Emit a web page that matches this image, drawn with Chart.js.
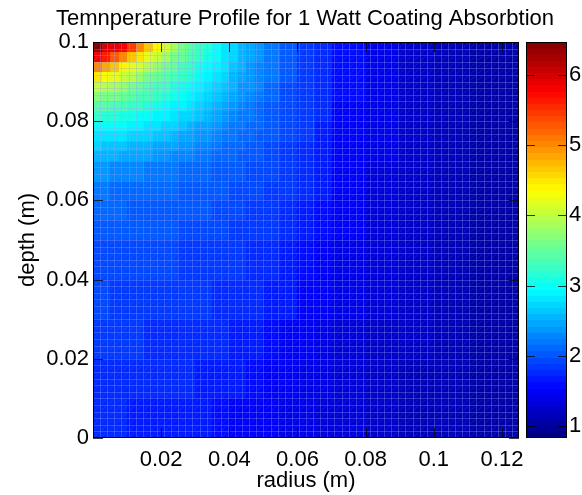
<!DOCTYPE html>
<html>
<head>
<meta charset="UTF-8">
<title>Temnperature Profile</title>
<script src="https://cdn.jsdelivr.net/npm/chart.js"></script>
<style>
    html, body { margin: 0; padding: 0; background: #fff; }
    #wrap { position: relative; width: 582px; height: 495px; }
</style>
</head>
<body>
<div id="wrap"><canvas id="heat"></canvas></div>
<script>
    // Temperature, stored as three rectangular patches of cells.
    // Each patch: radius edges (m), depth edges (m, top to bottom), one list per depth band.

    // patch A: hot corner, radius 0..0.05, depth 0.1..0.07
    const radiusA = [0, 0.0025, 0.005, 0.0075, 0.01, 0.0125, 0.015, 0.0175, 0.02, 0.0225, 0.025,
        0.0275, 0.03, 0.0325, 0.035, 0.0375, 0.04, 0.0425, 0.045, 0.0475, 0.05];
    const depthA = [0.1, 0.0975, 0.095, 0.0925, 0.09, 0.0875, 0.085, 0.0825, 0.08, 0.0775, 0.075, 0.0725, 0.07];
    const rowA01 = [6.45, 6.00, 5.90, 5.80, 5.44, 5.01, 4.67, 4.39, 4.13, 3.87, 3.62, 3.44, 3.27, 3.13, 3.00, 2.85, 2.71, 2.57, 2.44, 2.34];
    const rowA02 = [5.79, 5.59, 5.32, 4.99, 4.70, 4.47, 4.25, 4.05, 3.84, 3.63, 3.49, 3.34, 3.21, 3.08, 2.96, 2.82, 2.69, 2.55, 2.43, 2.33];
    const rowA03 = [5.02, 4.81, 4.62, 4.44, 4.26, 4.10, 3.93, 3.75, 3.60, 3.48, 3.36, 3.24, 3.12, 3.01, 2.89, 2.77, 2.65, 2.52, 2.40, 2.31];
    const rowA04 = [4.47, 4.34, 4.21, 4.08, 3.94, 3.79, 3.64, 3.54, 3.44, 3.34, 3.23, 3.13, 3.03, 2.93, 2.82, 2.72, 2.59, 2.47, 2.37, 2.28];
    const rowA05 = [4.08, 3.98, 3.86, 3.75, 3.63, 3.55, 3.46, 3.38, 3.30, 3.20, 3.11, 3.02, 2.93, 2.84, 2.75, 2.64, 2.52, 2.41, 2.33, 2.24];
    const rowA06 = [3.70, 3.64, 3.57, 3.51, 3.44, 3.37, 3.31, 3.23, 3.15, 3.07, 2.99, 2.91, 2.83, 2.75, 2.66, 2.55, 2.44, 2.36, 2.28, 2.20];
    const rowA07 = [3.46, 3.42, 3.37, 3.33, 3.28, 3.21, 3.14, 3.07, 3.01, 2.94, 2.87, 2.81, 2.74, 2.66, 2.55, 2.45, 2.38, 2.30, 2.22, 2.15];
    const rowA08 = [3.24, 3.20, 3.15, 3.11, 3.07, 3.02, 2.98, 2.93, 2.88, 2.82, 2.76, 2.71, 2.62, 2.54, 2.45, 2.38, 2.31, 2.23, 2.16, 2.11];
    const rowA09 = [3.03, 3.00, 2.98, 2.96, 2.92, 2.88, 2.84, 2.79, 2.75, 2.71, 2.65, 2.57, 2.50, 2.43, 2.36, 2.30, 2.23, 2.17, 2.12, 2.07];
    const rowA10 = [2.85, 2.83, 2.80, 2.78, 2.76, 2.74, 2.71, 2.68, 2.62, 2.56, 2.50, 2.45, 2.39, 2.33, 2.28, 2.22, 2.17, 2.12, 2.08, 2.04];
    const rowA11 = [2.69, 2.66, 2.63, 2.60, 2.58, 2.55, 2.52, 2.50, 2.47, 2.44, 2.39, 2.34, 2.29, 2.25, 2.20, 2.15, 2.12, 2.08, 2.04, 2.01];
    const rowA12 = [2.54, 2.52, 2.51, 2.49, 2.47, 2.46, 2.43, 2.39, 2.35, 2.32, 2.28, 2.24, 2.21, 2.17, 2.14, 2.11, 2.08, 2.05, 2.02, 1.98];

    // patch B: outer part, radius 0.05..0.125, full depth
    const radiusB = [0.05, 0.055, 0.06, 0.065, 0.07, 0.08, 0.09, 0.1, 0.11, 0.125];
    const depthB = [0.1, 0.095, 0.09, 0.085, 0.08, 0.075, 0.07, 0.065, 0.06, 0.05, 0.04, 0.03, 0.02, 0.01, 0];
    const rowB01 = [2.20, 2.02, 1.88, 1.75, 1.56, 1.38, 1.26, 1.14, 1.06];
    const rowB02 = [2.16, 2.00, 1.87, 1.75, 1.55, 1.38, 1.26, 1.14, 1.06];
    const rowB03 = [2.10, 1.97, 1.85, 1.73, 1.54, 1.38, 1.26, 1.14, 1.06];
    const rowB04 = [2.04, 1.93, 1.83, 1.72, 1.53, 1.37, 1.26, 1.14, 1.06];
    const rowB05 = [1.99, 1.90, 1.81, 1.71, 1.52, 1.37, 1.25, 1.14, 1.06];
    const rowB06 = [1.94, 1.86, 1.78, 1.69, 1.51, 1.36, 1.25, 1.14, 1.06];
    const rowB07 = [1.90, 1.83, 1.75, 1.66, 1.50, 1.35, 1.24, 1.14, 1.06];
    const rowB08 = [1.86, 1.80, 1.73, 1.63, 1.48, 1.34, 1.24, 1.13, 1.06];
    const rowB09 = [1.81, 1.75, 1.70, 1.58, 1.46, 1.33, 1.23, 1.13, 1.06];
    const rowB10 = [1.75, 1.71, 1.62, 1.52, 1.42, 1.31, 1.22, 1.13, 1.06];
    const rowB11 = [1.71, 1.63, 1.53, 1.47, 1.39, 1.29, 1.20, 1.12, 1.06];
    const rowB12 = [1.61, 1.53, 1.48, 1.43, 1.35, 1.27, 1.19, 1.12, 1.06];
    const rowB13 = [1.52, 1.47, 1.43, 1.38, 1.32, 1.25, 1.18, 1.12, 1.06];
    const rowB14 = [1.46, 1.42, 1.38, 1.34, 1.29, 1.22, 1.17, 1.12, 1.05];

    // patch C: lower part near the axis, radius 0..0.05, depth 0.07..0
    const radiusC = [0, 0.005, 0.01, 0.015, 0.02, 0.025, 0.03, 0.035, 0.04, 0.045, 0.05];
    const depthC = [0.07, 0.065, 0.06, 0.055, 0.05, 0.04, 0.03, 0.02, 0.01, 0];
    const rowC01 = [2.34, 2.30, 2.27, 2.23, 2.19, 2.15, 2.11, 2.06, 2.01, 1.96];
    const rowC02 = [2.16, 2.15, 2.13, 2.11, 2.08, 2.06, 2.03, 2.00, 1.96, 1.91];
    const rowC03 = [2.08, 2.07, 2.05, 2.04, 2.02, 2.01, 1.99, 1.95, 1.91, 1.87];
    const rowC04 = [2.03, 2.02, 2.01, 2.00, 1.98, 1.95, 1.93, 1.90, 1.87, 1.84];
    const rowC05 = [1.95, 1.94, 1.92, 1.91, 1.90, 1.88, 1.87, 1.86, 1.83, 1.79];
    const rowC06 = [1.89, 1.88, 1.87, 1.86, 1.85, 1.83, 1.81, 1.78, 1.76, 1.73];
    const rowC07 = [1.82, 1.81, 1.80, 1.78, 1.77, 1.75, 1.74, 1.73, 1.71, 1.70];
    const rowC08 = [1.77, 1.76, 1.75, 1.74, 1.73, 1.72, 1.71, 1.70, 1.65, 1.58];
    const rowC09 = [1.73, 1.72, 1.71, 1.71, 1.70, 1.68, 1.63, 1.58, 1.53, 1.49];

    const patches = [
        {radius: radiusA, depth: depthA, rows: [rowA01, rowA02, rowA03, rowA04, rowA05, rowA06,
            rowA07, rowA08, rowA09, rowA10, rowA11, rowA12]},
        {radius: radiusB, depth: depthB, rows: [rowB01, rowB02, rowB03, rowB04, rowB05, rowB06, rowB07,
            rowB08, rowB09, rowB10, rowB11, rowB12, rowB13, rowB14]},
        {radius: radiusC, depth: depthC, rows: [rowC01, rowC02, rowC03, rowC04, rowC05, rowC06,
            rowC07, rowC08, rowC09]}
    ];

    const colorMin = 0.83;
    const colorMax = 6.47;
    const xTicks = [0.02, 0.04, 0.06, 0.08, 0.1, 0.12];
    const yTicks = [0, 0.02, 0.04, 0.06, 0.08, 0.1];
    const cbTicks = [1, 2, 3, 4, 5, 6];

    const nLevels = 64;   // jet(64)
    const meshN = 60;     // faceted surface mesh

    function jetLevel(k) {
        const t = (k + 0.5) / nLevels;
        const c = d => Math.round(255 * Math.max(0, Math.min(1, 1.5 - Math.abs(4 * t - d))));
        return `rgb(${c(3)},${c(2)},${c(1)})`;
    }
    function jetColor(v) {
        let k = Math.floor((v - colorMin) / (colorMax - colorMin) * nLevels);
        k = Math.max(0, Math.min(nLevels - 1, k));
        return jetLevel(k);
    }

    const heatPlugin = {
        id: 'heat',
        beforeDatasetsDraw(chart) {
            const {ctx, chartArea: a, scales: {x, y}} = chart;
            ctx.save();
            ctx.beginPath();
            ctx.rect(a.left, a.top, a.width, a.height);
            ctx.clip();
            patches.forEach(p => {
                p.rows.forEach((row, j) => {
                    const y0 = Math.round(y.getPixelForValue(p.depth[j]));
                    const y1 = Math.round(y.getPixelForValue(p.depth[j + 1]));
                    row.forEach((v, i) => {
                        const x0 = Math.round(x.getPixelForValue(p.radius[i]));
                        const x1 = Math.round(x.getPixelForValue(p.radius[i + 1]));
                        ctx.fillStyle = jetColor(v);
                        ctx.fillRect(x0, y0, x1 - x0, y1 - y0);
                    });
                });
            });
            // facet edges
            const mx = i => x.getPixelForValue(x.min + (x.max - x.min) * i / meshN);
            const my = j => y.getPixelForValue(y.min + (y.max - y.min) * j / meshN);
            ctx.lineWidth = 1;
            ctx.strokeStyle = 'rgba(150,165,255,0.33)';
            ctx.beginPath();
            for (let i = 1; i < meshN; i++) {
                const px = Math.round(mx(i)) + 0.5;
                ctx.moveTo(px, a.top); ctx.lineTo(px, a.bottom);
                const py = Math.round(my(i)) + 0.5;
                ctx.moveTo(a.left, py); ctx.lineTo(a.right, py);
            }
            ctx.stroke();
            ctx.strokeStyle = 'rgba(150,165,255,0.15)';
            ctx.beginPath();
            for (let i = 0; i < meshN; i++) {
                for (let j = 0; j < meshN; j++) {
                    ctx.moveTo(mx(i) + 1.5, my(j) - 1.5);
                    ctx.lineTo(mx(i + 1) - 1.5, my(j + 1) + 1.5);
                }
            }
            ctx.stroke();
            ctx.restore();
        },
        afterDraw(chart) {
            const {ctx, chartArea: a, scales: {x, y, cb}} = chart;
            ctx.save();
            // colour bar
            const cbL = a.right + 7, cbR = a.right + 48;
            for (let k = 0; k < nLevels; k++) {
                const v0 = colorMin + (colorMax - colorMin) * k / nLevels;
                const v1 = colorMin + (colorMax - colorMin) * (k + 1) / nLevels;
                const p0 = Math.round(cb.getPixelForValue(v0));
                const p1 = Math.round(cb.getPixelForValue(v1));
                ctx.fillStyle = jetLevel(k);
                ctx.fillRect(cbL, p1, cbR - cbL, p0 - p1);
            }
            ctx.strokeStyle = '#000';
            ctx.lineWidth = 1;
            ctx.strokeRect(cbL + 0.5, a.top + 0.5, cbR - cbL - 1, a.height - 1);
            ctx.strokeRect(a.left + 0.5, a.top + 0.5, a.width - 1, a.height - 1);
            // inward tick marks
            const tl = 10;
            ctx.strokeStyle = 'rgba(0,0,0,0.75)';
            ctx.beginPath();
            xTicks.forEach(v => {
                const px = Math.round(x.getPixelForValue(v)) + 0.5;
                ctx.moveTo(px, a.bottom); ctx.lineTo(px, a.bottom - tl);
                ctx.moveTo(px, a.top); ctx.lineTo(px, a.top + tl);
            });
            yTicks.forEach(v => {
                const py = Math.round(y.getPixelForValue(v)) + 0.5;
                ctx.moveTo(a.left, py); ctx.lineTo(a.left + tl, py);
                ctx.moveTo(a.right, py); ctx.lineTo(a.right - tl, py);
            });
            cbTicks.forEach(v => {
                const py = Math.round(cb.getPixelForValue(v)) + 0.5;
                ctx.moveTo(cbL, py); ctx.lineTo(cbL + 9, py);
                ctx.moveTo(cbR, py); ctx.lineTo(cbR - 9, py);
            });
            ctx.stroke();
            ctx.restore();
        }
    };

    // fixed axis box sizes, no overhang padding
    function fixSize(w, h) {
        return s => {
            if (w !== null) s.width = w;
            if (h !== null) s.height = h;
            s.paddingTop = 0; s.paddingBottom = 0; s.paddingLeft = 0; s.paddingRight = 0;
        };
    }

    Chart.defaults.font.family = '"Liberation Sans", Arial, sans-serif';
    Chart.defaults.color = '#000';
    const textFont = {size: 22, weight: 'normal'};
    const noGrid = {display: false, drawTicks: false};

    new Chart(document.getElementById('heat'), {
        type: 'scatter',
        data: {datasets: []},
        options: {
            responsive: true,
            maintainAspectRatio: false,
            animation: false,
            layout: {padding: {left: 28, right: 0, top: 0, bottom: 0}},
            plugins: {
                legend: {display: false},
                tooltip: {enabled: false},
                title: {
                    display: true,
                    text: 'Temnperature Profile for 1 Watt Coating Absorbtion',
                    font: textFont,
                    color: '#000',
                    padding: {top: 6, bottom: 9.6}
                }
            },
            scales: {
                x: {
                    type: 'linear', position: 'bottom', min: 0, max: 0.125,
                    afterFit: fixSize(null, 57),
                    afterBuildTicks: s => { s.ticks = xTicks.map(v => ({value: v})); },
                    grid: noGrid, border: {display: false},
                    ticks: {font: textFont, padding: 9, maxRotation: 0, autoSkip: false,
                        callback: v => String(+v.toFixed(2))},
                    title: {display: true, text: 'radius (m)', font: textFont, padding: {top: 0, bottom: 1}}
                },
                y: {
                    type: 'linear', position: 'left', min: 0, max: 0.1,
                    afterFit: fixSize(65, null),
                    afterBuildTicks: s => { s.ticks = yTicks.map(v => ({value: v})); },
                    grid: noGrid, border: {display: false},
                    ticks: {font: textFont, padding: 4, autoSkip: false,
                        callback: v => String(+v.toFixed(2))},
                    title: {display: true, text: 'depth (m)', font: textFont, padding: {top: -13, bottom: 0}}
                },
                cb: {
                    type: 'linear', position: 'right', min: colorMin, max: colorMax,
                    afterFit: fixSize(63, null),
                    afterBuildTicks: s => { s.ticks = cbTicks.map(v => ({value: v})); },
                    grid: noGrid, border: {display: false},
                    ticks: {font: textFont, padding: 50, autoSkip: false}
                }
            }
        },
        plugins: [heatPlugin]
    });
</script>
</body>
</html>
